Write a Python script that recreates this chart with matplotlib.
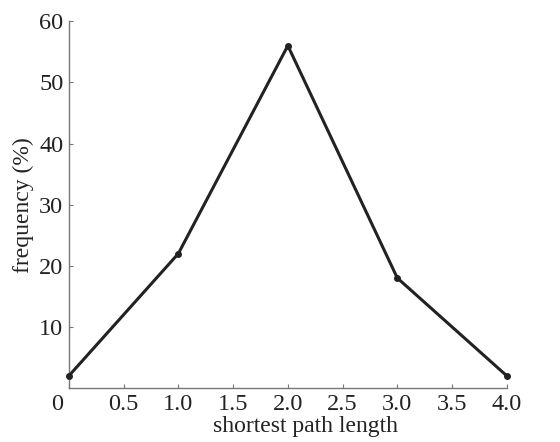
import numpy as np
import matplotlib.pyplot as plt
import matplotlib.transforms as mtransforms

plt.rcParams['font.family'] = ['Liberation Serif', 'DejaVu Serif']

path_length = [0, 1, 2, 3, 4]
frequency = [2, 22, 56, 18, 2]
xticks = [0, 0.5, 1.0, 1.5, 2.0, 2.5, 3.0, 3.5, 4.0]
xticklabels = ['0', '0.5', '1.0', '1.5', '2.0', '2.5', '3.0', '3.5', '4.0']
yticks = [10, 20, 30, 40, 50, 60]

fig = plt.figure(figsize=(5.6, 4.42), dpi=100)
ax = fig.add_axes([0.123, 0.122, 0.782, 0.830])

ax.plot(path_length, frequency, '-o', color='#222222', linewidth=2.2,
        markersize=4, clip_on=False, zorder=3)

ax.set_xlim(0, 4)
ax.set_ylim(0, 60)
ax.set_xticks(xticks)
ax.set_xticklabels(xticklabels)
ax.set_yticks(yticks)

for s in ['top', 'right']:
    ax.spines[s].set_visible(False)
for s in ['left', 'bottom']:
    ax.spines[s].set_color('#777777')
    ax.spines[s].set_linewidth(1.0)

ax.tick_params(direction='in', length=3, color='#777777', labelsize=17.5,
               labelcolor='#222222', pad=4)

# the corner "0" sits left of the origin
lbl = ax.get_xticklabels()[0]
lbl.set_transform(lbl.get_transform() +
                  mtransforms.ScaledTranslation(-0.12, 0, fig.dpi_scale_trans))

ax.set_xlabel('shortest path length', fontsize=17, color='#222222', labelpad=0)
ax.xaxis.set_label_coords(0.54, -0.075)
ax.set_ylabel('frequency (%)', fontsize=17, color='#222222', labelpad=4)

fig.savefig('out.png', dpi=100)
